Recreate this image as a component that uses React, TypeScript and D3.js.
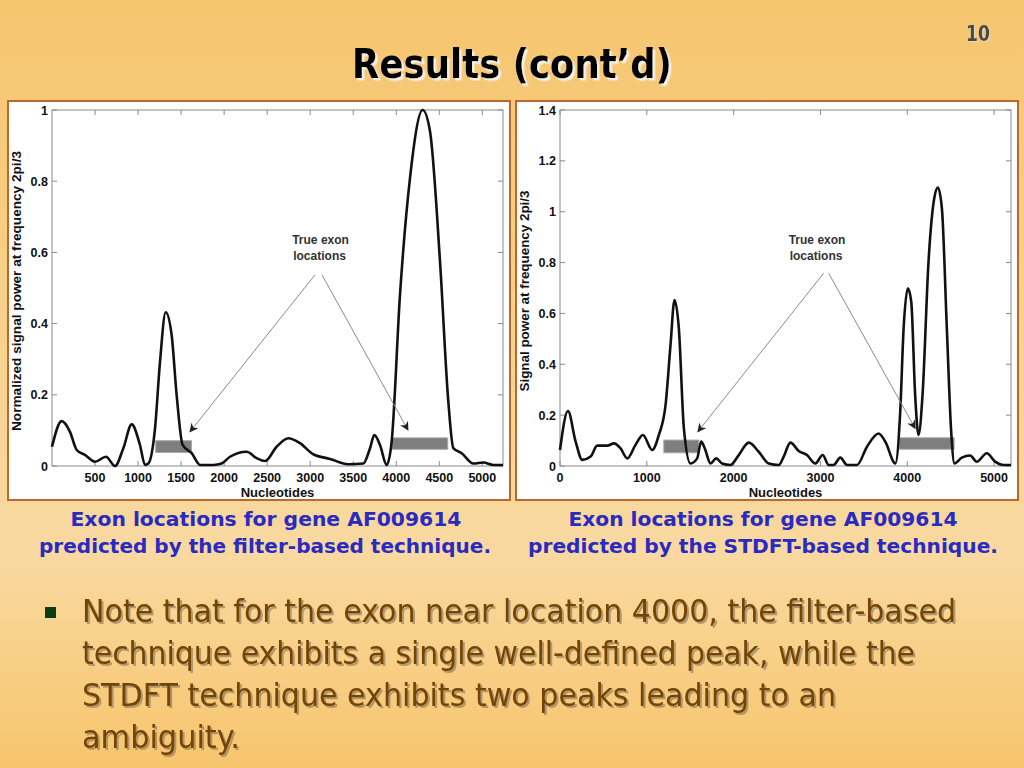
import React from 'react';
import * as d3 from 'd3';

// filter-based curve (nucleotide position, normalized power)
const filterX = [0, 112, 209, 287, 383, 500, 627, 732, 829, 926, 1022, 1081, 1119, 1197, 1255, 1321, 1390, 1448, 1518, 1623, 1720, 1875, 1971, 2068, 2262, 2378, 2475, 2610, 2746, 2881, 3036, 3230, 3443, 3617, 3695, 3745, 3811, 3888, 3946, 4043, 4160, 4307, 4392, 4508, 4605, 4663, 4760, 4895, 5012, 5128, 5240];
const filterY = [0.054, 0.126, 0.096, 0.045, 0.031, 0.012, 0.026, 0.0, 0.05, 0.117, 0.059, 0.003, 0.007, 0.106, 0.293, 0.432, 0.368, 0.2, 0.059, 0.036, 0.003, 0.003, 0.007, 0.026, 0.04, 0.022, 0.014, 0.054, 0.078, 0.064, 0.033, 0.02, 0.005, 0.007, 0.05, 0.087, 0.059, 0.003, 0.068, 0.48, 0.81, 1.0, 0.94, 0.575, 0.18, 0.05, 0.036, 0.007, 0.01, 0.003, 0.003];

// STDFT curve
const stdftX = [0, 92, 180, 257, 353, 429, 545, 621, 698, 775, 870, 955, 1062, 1139, 1216, 1273, 1319, 1369, 1427, 1503, 1580, 1626, 1668, 1733, 1799, 1868, 1963, 2059, 2174, 2289, 2404, 2520, 2577, 2654, 2750, 2845, 2941, 3026, 3095, 3152, 3229, 3306, 3421, 3536, 3670, 3747, 3862, 3919, 3958, 4007, 4046, 4091, 4130, 4176, 4245, 4314, 4353, 4399, 4456, 4506, 4544, 4629, 4725, 4801, 4916, 5012, 5108, 5195];
const stdftY = [0.063, 0.216, 0.096, 0.024, 0.037, 0.08, 0.08, 0.089, 0.069, 0.03, 0.083, 0.122, 0.063, 0.122, 0.24, 0.476, 0.653, 0.541, 0.148, 0.01, 0.03, 0.096, 0.069, 0.01, 0.03, 0.01, 0.004, 0.043, 0.092, 0.056, 0.01, 0.004, 0.037, 0.092, 0.059, 0.043, 0.01, 0.043, 0.004, 0.004, 0.033, 0.004, 0.004, 0.076, 0.128, 0.096, 0.01, 0.214, 0.541, 0.699, 0.646, 0.279, 0.122, 0.279, 0.804, 1.059, 1.095, 1.013, 0.541, 0.135, 0.01, 0.033, 0.041, 0.017, 0.05, 0.017, 0.004, 0.004];

// true exon bars: [x0, x1, y0, y1]
const filterExons = [[1205, 1620, 0.038, 0.071], [3950, 4598, 0.047, 0.079]];
const stdftExons = [[1196, 1599, 0.052, 0.102], [3907, 4540, 0.066, 0.111]];

const filterYTicks = [0, 0.2, 0.4, 0.6, 0.8, 1];
const filterXTicks = [500, 1000, 1500, 2000, 2500, 3000, 3500, 4000, 4500, 5000];
const stdftYTicks = [0, 0.2, 0.4, 0.6, 0.8, 1, 1.2, 1.4];
const stdftXTicks = [0, 1000, 2000, 3000, 4000, 5000];

// annotation arrows: [startX, startY, tipX, tipY]
const filterArrows = [[3056, 0.537, 1603, 0.096], [3137, 0.537, 4136, 0.101]];
const stdftArrows = [[3037, 0.758, 1588, 0.135], [3095, 0.758, 4091, 0.148]];

const bulletLines = [
  'Note that for the exon near location 4000, the filter-based',
  'technique exhibits a single well-defined peak, while the',
  'STDFT technique exhibits two peaks leading to an',
  'ambiguity.',
];
const bulletWidths = [874, 833, 754, 158];

const plotFont = 'Liberation Sans, Arial, sans-serif';
const slideFont = 'DejaVu Sans, Verdana, sans-serif';

type PanelProps = {
  id: string;
  frame: [number, number, number, number];
  plot: [number, number, number, number];
  xMax: number;
  yMax: number;
  xs: number[];
  ys: number[];
  xTicks: number[];
  yTicks: number[];
  exons: number[][];
  arrows: number[][];
  labelX: number;
  labelY: number;
  yLabel: string;
  yLabelLen: number;
};

function Panel(p: PanelProps) {
  const [fx, fy, fw, fh] = p.frame;
  const [l, t, r, b] = p.plot;
  const x = d3.scaleLinear().domain([0, p.xMax]).range([l, r]);
  const y = d3.scaleLinear().domain([0, p.yMax]).range([b, t]);
  const pts = p.xs.map((v, i) => [v, p.ys[i]] as [number, number]);
  const line = d3
    .line<[number, number]>()
    .x(d => x(d[0]))
    .y(d => y(d[1]))
    .curve(d3.curveMonotoneX);
  const tk = 5;
  const fmt = (v: number) => String(+v.toFixed(1));
  return (
    <g>
      <rect x={fx} y={fy} width={fw} height={fh} fill="#fff" stroke="#b9692e" strokeWidth={2} />
      <rect x={l} y={t} width={r - l} height={b - t} fill="none" stroke="#8a8a8a" strokeWidth={1} />
      {p.yTicks.map(v => (
        <g key={'y' + v}>
          <line x1={l} x2={l + tk} y1={y(v)} y2={y(v)} stroke="#8a8a8a" />
          <line x1={r} x2={r - tk} y1={y(v)} y2={y(v)} stroke="#8a8a8a" />
          <text x={l - 4} y={y(v) + 4.5} textAnchor="end" fontSize={12.5} fontWeight="bold" fontFamily={plotFont} fill="#111">
            {fmt(v)}
          </text>
        </g>
      ))}
      {p.xTicks.map(v => (
        <g key={'x' + v}>
          <line x1={x(v)} x2={x(v)} y1={b} y2={b - tk} stroke="#8a8a8a" />
          <line x1={x(v)} x2={x(v)} y1={t} y2={t + tk} stroke="#8a8a8a" />
          <text x={x(v)} y={b + 16} textAnchor="middle" fontSize={12.5} fontWeight="bold" fontFamily={plotFont} fill="#111">
            {v}
          </text>
        </g>
      ))}
      {p.exons.map((e, i) => (
        <rect
          key={'e' + i}
          x={x(e[0])}
          y={y(e[3])}
          width={x(e[1]) - x(e[0])}
          height={y(e[2]) - y(e[3])}
          fill="#7e7e7e"
          stroke="#a8a8a8"
          strokeWidth={1}
        />
      ))}
      <path d={line(pts) || ''} fill="none" stroke="#111" strokeWidth={2.6} strokeLinejoin="round" />
      {p.arrows.map((a, i) => (
        <line
          key={'a' + i}
          x1={x(a[0])}
          y1={y(a[1])}
          x2={x(a[2])}
          y2={y(a[3])}
          stroke="#8a8a8a"
          strokeWidth={1}
          markerEnd={`url(#arr-${p.id})`}
        />
      ))}
      <defs>
        <marker id={`arr-${p.id}`} viewBox="0 0 10 10" refX={9} refY={5} markerWidth={9} markerHeight={9} orient="auto" markerUnits="userSpaceOnUse">
          <path d="M0,0 L10,5 L0,10 L3,5 Z" fill="#222" />
        </marker>
      </defs>
      <text x={x(p.labelX)} y={y(p.labelY)} fontSize={12} fontWeight="bold" fontFamily={plotFont} fill="#333" textAnchor="middle">
        <tspan x={x(p.labelX) - 6}>True exon</tspan>
        <tspan x={x(p.labelX) - 7} dy={16}>locations</tspan>
      </text>
      <text x={(l + r) / 2} y={b + 31} textAnchor="middle" fontSize={13} fontWeight="bold" fontFamily={plotFont} fill="#111">
        Nucleotides
      </text>
      <text
        transform={`translate(${fx + 13},${(t + b) / 2 + 3}) rotate(-90)`}
        textAnchor="middle"
        fontSize={12.5}
        fontWeight="bold"
        fontFamily={plotFont}
        fill="#111"
        textLength={p.yLabelLen}
        lengthAdjust="spacingAndGlyphs"
      >
        {p.yLabel}
      </text>
    </g>
  );
}

export default function App() {
  return (
    <svg width={1024} height={768} style={{ position: 'absolute', left: 0, top: 0 }}>
      <defs>
        <linearGradient id="bg" x1="0" y1="0" x2="0" y2="1">
          <stop offset="0" stopColor="#f6c56e" />
          <stop offset="0.72" stopColor="#f9d9a1" />
          <stop offset="1" stopColor="#f7c56c" />
        </linearGradient>
        <filter id="shTitle" x="-5%" y="-20%" width="110%" height="140%">
          <feDropShadow dx={2.5} dy={2.5} stdDeviation={0.6} floodColor="#f2efe8" floodOpacity={1} />
        </filter>
        <filter id="shBody" x="-5%" y="-20%" width="110%" height="140%">
          <feDropShadow dx={2} dy={2} stdDeviation={0.7} floodColor="#8a7a60" floodOpacity={0.65} />
        </filter>
        <filter id="shNum" x="-20%" y="-20%" width="140%" height="140%">
          <feDropShadow dx={1.2} dy={1.2} stdDeviation={0.4} floodColor="#e0d8c8" floodOpacity={1} />
        </filter>
      </defs>
      <rect width={1024} height={768} fill="url(#bg)" />

      <text x={978} y={41} textAnchor="middle" fontSize={21} fontWeight="bold" fontFamily={slideFont} fill="#4a4a4a" textLength={24} lengthAdjust="spacingAndGlyphs" filter="url(#shNum)">10</text>

      <text x={512} y={78} textAnchor="middle" fontSize={40} fontWeight="bold" fontFamily={slideFont} fill="#000" textLength={320} lengthAdjust="spacingAndGlyphs" filter="url(#shTitle)">Results (cont’d)</text>

      <Panel
        id="f"
        frame={[8, 101, 502, 399]}
        plot={[52, 110, 503, 466]}
        xMax={5240}
        yMax={1}
        xs={filterX}
        ys={filterY}
        xTicks={filterXTicks}
        yTicks={filterYTicks}
        exons={filterExons}
        arrows={filterArrows}
        labelX={3190}
        labelY={0.625}
        yLabel="Normalized signal power at frequency 2pi/3"
        yLabelLen={280}
      />
      <Panel
        id="s"
        frame={[516, 101, 502, 399]}
        plot={[560, 110, 1011, 466]}
        xMax={5195}
        yMax={1.4}
        xs={stdftX}
        ys={stdftY}
        xTicks={stdftXTicks}
        yTicks={stdftYTicks}
        exons={stdftExons}
        arrows={stdftArrows}
        labelX={3030}
        labelY={0.875}
        yLabel="Signal power at frequency 2pi/3"
        yLabelLen={201}
      />

      <g fontFamily={slideFont} fontWeight="bold" fontSize={19} fill="#2a2ac0" textAnchor="middle">
        <text x={266} y={526} textLength={391} lengthAdjust="spacingAndGlyphs">Exon locations for gene AF009614</text>
        <text x={265} y={553} textLength={452} lengthAdjust="spacingAndGlyphs">predicted by the filter-based technique.</text>
        <text x={763} y={526} textLength={389} lengthAdjust="spacingAndGlyphs">Exon locations for gene AF009614</text>
        <text x={763} y={553} textLength={470} lengthAdjust="spacingAndGlyphs">predicted by the STDFT-based technique.</text>
      </g>

      <rect x={45} y={607} width={11} height={11} fill="#0c3d12" />
      <g fontFamily={slideFont} fontSize={32} fill="#744400" filter="url(#shBody)">
        {bulletLines.map((s, i) => (
          <text key={i} x={82} y={622 + i * 42} textLength={bulletWidths[i]} lengthAdjust="spacingAndGlyphs">{s}</text>
        ))}
      </g>
    </svg>
  );
}
